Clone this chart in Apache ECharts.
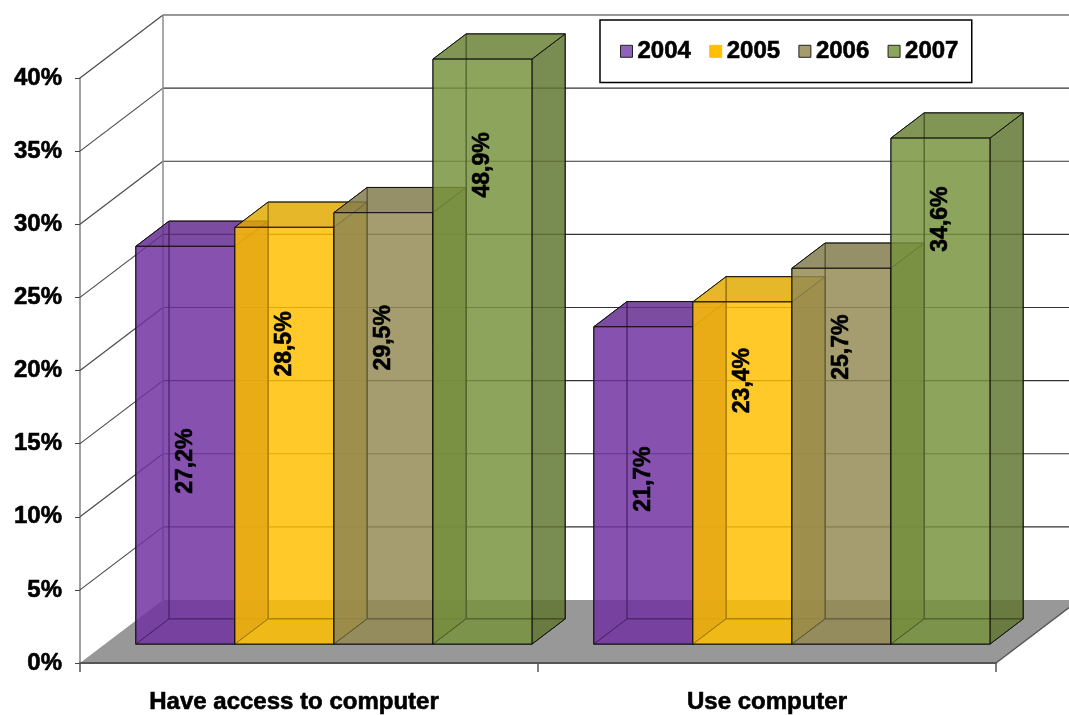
<!DOCTYPE html>
<html>
<head>
<meta charset="utf-8">
<script src="https://cdn.jsdelivr.net/npm/echarts@6/dist/echarts.min.js"></script>
<style>
  html, body { margin: 0; padding: 0; background: #ffffff; }
  #chart { width: 1069px; height: 715px; }
</style>
</head>
<body>
<div id="chart"></div>
<script>
// ---- data ----
const categories = ['Have access to computer', 'Use computer'];
const years = ['2004', '2005', '2006', '2007'];
const v2004 = [27.2, 21.7];
const v2005 = [28.5, 23.4];
const v2006 = [29.5, 25.7];
const v2007 = [48.9, 34.6];
const yTicks = [0, 5, 10, 15, 20, 25, 30, 35, 40];

// ---- look ----
const FONT = '"Liberation Sans", Arial, sans-serif';
const Y_MIN = yTicks[0];
const Y_MAX = yTicks[yTicks.length - 1];
const DEPTH = [83, -63];          // oblique offset from the front plane to the back wall
const BAR_FRONT = 0.3;            // bar front face, as a fraction of the depth
const BAR_BACK = 0.7;             // bar back face
const BAR_SPAN = 0.865;           // share of each category band used by the four bars
const baseColors = ['#7030A0', '#FFC000', '#948A54', '#77933C'];
const legendColors = ['#8F62BC', '#FFC000', '#A59B6D', '#8BA75C'];
const FACE_ALPHA = 0.6;
// where the rotated value text sits along each bar, as a share of its height
const labelAnchor = [
  [0.46, 0.52],
  [0.72, 0.77],
  [0.71, 0.79],
  [0.67, 0.84]
];
// horizontal nudge of each category caption (px, negative = left)
const captionShift = [-15, 0];
const seriesValues = [v2004, v2005, v2006, v2007];

function rgba(hex, k, a) {
  const n = parseInt(hex.slice(1), 16);
  const r = Math.round(((n >> 16) & 255) * k);
  const g = Math.round(((n >> 8) & 255) * k);
  const b = Math.round((n & 255) * k);
  return 'rgba(' + r + ',' + g + ',' + b + ',' + a + ')';
}

function poly(points, fill, stroke) {
  return {
    type: 'polygon',
    shape: { points: points },
    style: { fill: fill, stroke: stroke || 'none', lineWidth: 1, lineJoin: 'round' }
  };
}

function seg(x1, y1, x2, y2, color, w) {
  return {
    type: 'line',
    shape: { x1: x1, y1: y1, x2: x2, y2: y2 },
    style: { stroke: color, lineWidth: w || 1 }
  };
}

// floor, back wall and side wall drawn from the axis scale
function renderFrame(params, api) {
  const cs = params.coordSys;
  const x0 = cs.x, x1 = cs.x + cs.width;
  const [dx, dy] = DEPTH;
  const y0 = api.coord([0, Y_MIN])[1];
  const yTop = api.coord([0, Y_MAX])[1];
  const children = [];
  children.push(poly([[x0, y0], [x1, y0], [x1 + dx, y0 + dy], [x0 + dx, y0 + dy]], '#989898'));
  children.push(seg(x1, y0, x1 + dx, y0 + dy, '#555555', 1.5));
  yTicks.forEach(function (v) {
    if (v === Y_MIN) return;
    const yv = api.coord([0, v])[1];
    children.push(seg(x0, yv, x0 + dx, yv + dy, '#4a4a4a', 1.2));
    children.push(seg(x0 + dx, yv + dy, x1 + dx, yv + dy, '#333333', 1.2));
  });
  children.push(seg(x0 + dx, yTop + dy, x0 + dx, y0 + dy, '#8c8c8c', 1.5));
  return { type: 'group', children: children };
}

function makeBarRenderer(s) {
  return function (params, api) {
    const cat = api.value(0);
    const val = api.value(1);
    const [dx, dy] = DEPTH;
    const base = api.coord([cat, Y_MIN]);
    const band = api.size([1, 0])[0];
    const bw = band * BAR_SPAN / 4;
    const fx = base[0] - band * BAR_SPAN / 2 + s * bw + BAR_FRONT * dx;
    const fyB = base[1] + BAR_FRONT * dy;
    const fyT = api.coord([cat, Math.min(val, Y_MAX)])[1] + BAR_FRONT * dy;
    const ddx = (BAR_BACK - BAR_FRONT) * dx;
    const ddy = (BAR_BACK - BAR_FRONT) * dy;
    const c = baseColors[s];
    const edge = 'rgba(15,15,15,0.9)';

    const FLB = [fx, fyB], FRB = [fx + bw, fyB], FRT = [fx + bw, fyT], FLT = [fx, fyT];
    const BLB = [fx + ddx, fyB + ddy], BRB = [fx + bw + ddx, fyB + ddy];
    const BRT = [fx + bw + ddx, fyT + ddy], BLT = [fx + ddx, fyT + ddy];

    const front = rgba(c, 1, FACE_ALPHA);
    const children = [
      poly([BLB, BRB, BRT, BLT], front, edge),            // back
      poly([FLB, BLB, BLT, FLT], front, edge),            // left
      poly([FLB, FRB, BRB, BLB], front, edge),            // bottom
      poly([FRB, BRB, BRT, FRT], rgba(c, 0.72, FACE_ALPHA), edge), // right
      poly([FLT, FRT, BRT, BLT], rgba(c, 0.84, FACE_ALPHA), edge), // top
      poly([FLB, FRB, FRT, FLT], front, edge)             // front
    ];

    const ly = api.coord([cat, val * labelAnchor[s][cat]])[1] + BAR_FRONT * dy;
    children.push({
      type: 'text',
      x: fx + bw / 2,
      y: ly,
      rotation: Math.PI / 2,
      style: {
        text: val.toFixed(1).replace('.', ',') + '%',
        font: 'bold 23px ' + FONT,
        fill: '#000000',
        stroke: '#000000',
        lineWidth: 0.6,
        align: 'center',
        verticalAlign: 'middle'
      }
    });
    return { type: 'group', children: children };
  };
}

const chart = echarts.init(document.getElementById('chart'), null, { renderer: 'canvas' });

const series = [{
  type: 'custom',
  name: 'frame',
  coordinateSystem: 'cartesian2d',
  clip: false,
  silent: true,
  z: 1,
  renderItem: renderFrame,
  data: [[0, 0]]
}];

years.forEach(function (y, s) {
  series.push({
    type: 'custom',
    name: y,
    coordinateSystem: 'cartesian2d',
    clip: false,
    z: 2 + s,
    itemStyle: { color: legendColors[s] },
    renderItem: makeBarRenderer(s),
    data: seriesValues[s].map(function (v, i) { return [i, v]; })
  });
});

const boldText = { textBorderColor: '#000000', textBorderWidth: 0.6 };

chart.setOption({
  animation: false,
  backgroundColor: '#ffffff',
  grid: { left: 80, right: 73, top: 78, bottom: 52, containLabel: false },
  legend: {
    left: 600,
    top: 20,
    orient: 'horizontal',
    selectedMode: false,
    icon: 'rect',
    itemWidth: 12,
    itemHeight: 12,
    itemGap: 18,
    padding: [19, 13, 19, 20],
    backgroundColor: '#ffffff',
    borderColor: '#000000',
    borderWidth: 1.5,
    borderRadius: 0,
    textStyle: Object.assign({ fontFamily: FONT, fontWeight: 'bold', fontSize: 24, color: '#000000' }, boldText),
    data: years.map(function (y, s) {
      return {
        name: y,
        itemStyle: {
          color: legendColors[s],
          borderColor: s === 1 ? legendColors[s] : '#222222',
          borderWidth: 1
        }
      };
    })
  },
  xAxis: {
    type: 'category',
    data: categories,
    boundaryGap: true,
    axisLine: { show: true, lineStyle: { color: '#555555', width: 2 } },
    axisTick: { show: true, length: 9, lineStyle: { color: '#555555', width: 1.5 } },
    axisLabel: Object.assign({
      margin: 27,
      color: '#000000',
      fontFamily: FONT,
      fontWeight: 'bold',
      fontSize: 24,
      interval: 0,
      formatter: function (v, i) { return '{c' + i + '|' + v + '}'; },
      rich: {
        c0: { padding: [0, -2 * captionShift[0], 0, 0] },
        c1: { padding: [0, -2 * captionShift[1], 0, 0] }
      }
    }, boldText),
    splitLine: { show: false },
    z: 10
  },
  yAxis: {
    type: 'value',
    min: Y_MIN,
    max: Y_MAX,
    interval: 5,
    axisLine: { show: true, lineStyle: { color: '#808080', width: 1.5 } },
    axisTick: { show: true, length: 5, lineStyle: { color: '#444444' } },
    axisLabel: Object.assign({
      margin: 18,
      color: '#000000',
      fontFamily: FONT,
      fontWeight: 'bold',
      fontSize: 24,
      formatter: '{value}%'
    }, boldText),
    splitLine: { show: false }
  },
  series: series
});
</script>
</body>
</html>
